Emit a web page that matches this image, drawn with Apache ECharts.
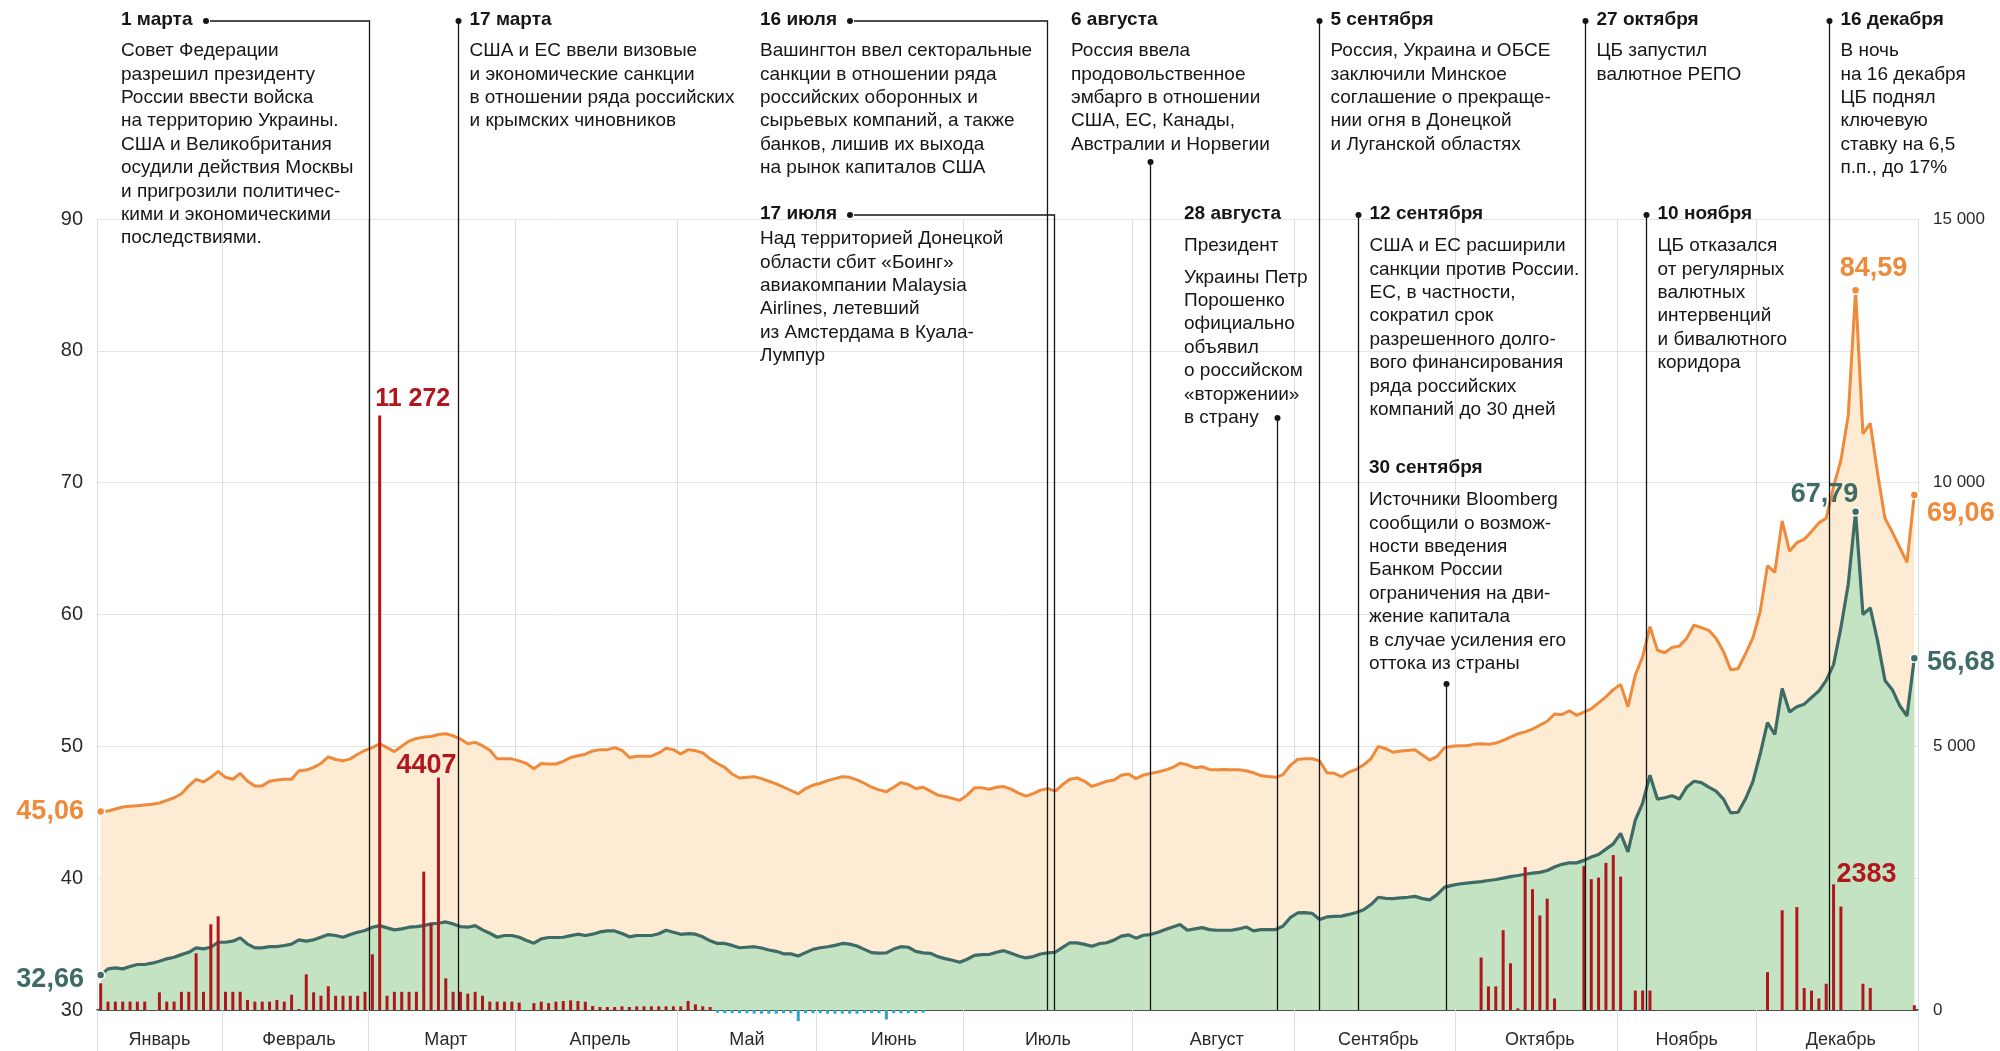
<!DOCTYPE html>
<html>
<head>
<meta charset="utf-8">
<style>
    html, body { margin: 0; padding: 0; background: #fff; }
    #chart { width: 2000px; height: 1051px; }
</style>
<script src="https://cdn.jsdelivr.net/npm/echarts@6.0.0/dist/echarts.min.js"></script>
</head>
<body>
<div id="chart"></div>
<script>
    // торговые дни 2014 года по месяцам
    var months = ['Январь', 'Февраль', 'Март', 'Апрель', 'Май', 'Июнь', 'Июль', 'Август', 'Сентябрь', 'Октябрь', 'Ноябрь', 'Декабрь'];
    var monthDays = [17, 20, 20, 22, 19, 20, 23, 22, 22, 22, 19, 22];

    // курс евро, руб.
    var eurRate = [
        45.06, 45.10, 45.25, 45.40, 45.45, 45.50, 45.55, 45.60, 45.70, 45.90, 46.10, 46.40, 47.00, 47.50, 47.30, 47.65, 48.10,
        47.65, 47.50, 47.95, 47.35, 47.00, 47.00, 47.35, 47.45, 47.50, 47.50, 48.15, 48.20, 48.40, 48.70, 49.20, 49.00, 48.90, 49.05, 49.40, 49.70,
        49.90, 50.20, 49.90, 49.60, 50.00, 50.40, 50.60, 50.70, 50.75, 50.90, 50.95, 50.80, 50.55, 50.20, 50.30, 50.05, 49.70, 49.05, 49.05, 49.05,
        48.90, 48.70, 48.30, 48.70, 48.66, 48.66, 48.86, 49.15, 49.28, 49.40, 49.65, 49.75, 49.75, 49.90, 49.70, 49.15, 49.25, 49.25, 49.25, 49.50, 49.85, 49.75,
        49.42, 49.75, 49.67, 49.50, 49.05, 48.70, 48.40, 47.90, 47.60, 47.65, 47.70, 47.55, 47.35, 47.15, 46.90, 46.65, 46.40, 46.80, 47.05,
        47.20, 47.40, 47.55, 47.70, 47.65, 47.45, 47.20, 46.90, 46.70, 46.55, 46.90, 47.25, 47.10, 46.80, 46.90, 46.60, 46.30, 46.20, 46.05, 45.90,
        46.30, 46.85, 46.85, 46.75, 46.90, 46.95, 46.75, 46.45, 46.22, 46.41, 46.68, 46.79, 46.60, 47.10, 47.50, 47.60, 47.35, 46.96, 47.15, 47.35, 47.45, 47.80, 47.90,
        47.55, 47.82, 47.95, 48.05, 48.20, 48.40, 48.72, 48.60, 48.38, 48.45, 48.25, 48.23, 48.25, 48.23, 48.23, 48.15, 48.00, 47.78, 47.72, 47.65, 47.85, 48.55,
        49.00, 49.06, 49.06, 48.90, 48.00, 47.95, 47.70, 48.05, 48.25, 48.60, 49.06, 50.00, 49.82, 49.55, 49.64, 49.69, 49.74, 49.35, 48.96, 49.24, 49.90, 50.00,
        50.05, 50.05, 50.15, 50.20, 50.15, 50.25, 50.45, 50.70, 50.95, 51.10, 51.30, 51.60, 51.90, 52.45, 52.40, 52.70, 52.35, 52.60, 52.85, 53.30, 53.75, 54.30,
        54.70, 53.00, 55.40, 56.80, 59.08, 57.30, 57.10, 57.50, 57.60, 58.20, 59.20, 59.00, 58.80, 58.20, 57.20, 55.80, 55.90, 57.00, 58.20,
        60.20, 63.70, 63.20, 67.10, 64.80, 65.45, 65.70, 66.30, 66.95, 67.30, 69.70, 71.70, 75.10, 84.59, 73.70, 74.50, 70.70, 67.30, 66.25, 65.10, 63.95, 69.06
    ];

    // курс доллара, руб.
    var usdRate = [
        32.66, 33.12, 33.20, 33.12, 33.30, 33.45, 33.45, 33.55, 33.70, 33.88, 34.00, 34.20, 34.38, 34.71, 34.64, 34.76, 35.14,
        35.14, 35.22, 35.47, 35.00, 34.71, 34.71, 34.81, 34.81, 34.89, 35.00, 35.32, 35.22, 35.32, 35.52, 35.72, 35.65, 35.52, 35.72, 35.90, 36.03,
        36.28, 36.40, 36.23, 36.08, 36.15, 36.28, 36.33, 36.40, 36.53, 36.58, 36.68, 36.53, 36.33, 36.28, 36.40, 36.08, 35.82, 35.52, 35.65, 35.65,
        35.52, 35.27, 35.07, 35.40, 35.50, 35.50, 35.52, 35.64, 35.75, 35.65, 35.75, 35.92, 36.00, 36.00, 35.80, 35.55, 35.65, 35.65, 35.65, 35.78, 36.05, 35.90,
        35.74, 35.80, 35.75, 35.55, 35.25, 35.05, 35.05, 34.90, 34.72, 34.76, 34.80, 34.70, 34.55, 34.45, 34.26, 34.26, 34.10, 34.35, 34.60,
        34.72, 34.80, 34.90, 35.05, 35.00, 34.85, 34.60, 34.35, 34.31, 34.33, 34.62, 34.80, 34.76, 34.45, 34.33, 34.30, 34.05, 33.90, 33.77, 33.62,
        33.85, 34.15, 34.20, 34.21, 34.38, 34.50, 34.30, 34.10, 33.95, 34.05, 34.25, 34.33, 34.38, 34.75, 35.10, 35.09, 34.98, 34.83, 35.03, 35.10, 35.30, 35.60, 35.70,
        35.45, 35.67, 35.72, 35.90, 36.10, 36.30, 36.48, 36.05, 36.15, 36.25, 36.10, 36.05, 36.05, 36.05, 36.15, 36.30, 36.00, 36.10, 36.10, 36.10, 36.35, 37.00,
        37.36, 37.38, 37.33, 36.87, 37.06, 37.10, 37.12, 37.25, 37.40, 37.60, 38.00, 38.55, 38.47, 38.45, 38.50, 38.55, 38.62, 38.45, 38.35, 38.75, 39.30, 39.45,
        39.56, 39.62, 39.68, 39.74, 39.82, 39.90, 40.00, 40.12, 40.20, 40.30, 40.38, 40.44, 40.58, 40.85, 41.05, 41.16, 41.16, 41.35, 41.60, 41.80, 42.20, 42.60,
        43.40, 42.00, 44.40, 45.70, 47.81, 46.00, 46.10, 46.25, 46.00, 46.90, 47.35, 47.25, 46.90, 46.60, 46.00, 44.95, 45.00, 46.00, 47.30,
        49.40, 51.80, 50.90, 54.38, 52.60, 53.00, 53.20, 53.70, 54.20, 55.00, 56.20, 59.00, 62.30, 67.79, 60.00, 60.50, 58.00, 55.00, 54.30, 53.10, 52.30, 56.68
    ];

    // интервенции ЦБ, млн долл. (минус - покупка валюты)
    var interventions = [
        506, 159, 159, 159, 159, 159, 159, 0, 335, 159, 159, 345, 345, 1075, 345, 1625, 1777,
        345, 345, 345, 190, 159, 159, 159, 190, 159, 290, 20, 677, 335, 270, 450, 270, 270, 270, 270, 345,
        1056, 11272, 270, 345, 345, 345, 345, 2624, 1644, 4407, 601, 345, 345, 310, 345, 270, 159, 159, 159, 159,
        140, 0, 130, 159, 130, 159, 171, 183, 171, 158, 76, 57, 57, 57, 70, 57, 70, 70, 70, 70, 70, 70,
        70, 171, 107, 70, 57, -50, -60, -60, -60, -60, -70, -70, -70, -70, -60, -60, -210, -60, -60,
        -60, -70, -70, -70, -70, -70, -60, -60, -60, -180, -60, -60, -60, -60, -50, 0, 0, 0, 0, 0,
        0, 0, 0, 0, 0, 0, 0, 0, 0, 0, 0, 0, 0, 0, 0, 0, 0, 0, 0, 0, 0, 0, 0,
        0, 0, 0, 0, 0, 0, 0, 0, 0, 0, 0, 0, 0, 0, 0, 0, 0, 0, 0, 0, 0, 0,
        0, 0, 0, 0, 0, 0, 0, 0, 0, 0, 0, 0, 0, 0, 0, 0, 0, 0, 0, 0, 0, 0,
        0, 0, 0, 996, 448, 448, 1514, 886, 30, 2709, 2291, 1793, 2112, 219, 0, 0, 0, 2729, 2480, 2510, 2789, 2938,
        2530, 0, 368, 368, 368, 0, 0, 0, 0, 0, 0, 0, 0, 0, 0, 0, 0, 0, 0,
        0, 717, 0, 1892, 0, 1952, 418, 368, 219, 498, 2383, 1962, 0, 0, 498, 418, 0, 0, 0, 0, 0, 90
    ];

    var rateTicks = [30, 40, 50, 60, 70, 80, 90];
    var volumeTicks = [0, 5000, 10000, 15000];

    // события (day - номер торгового дня)
    var events = [
        { day: 36.6, title: '1 марта', text: ['Совет Федерации', 'разрешил президенту', 'России ввести войска', 'на территорию Украины.', 'США и Великобритания', 'осудили действия Москвы', 'и пригрозили политичес-', 'кими и экономическими', 'последствиями.'] },
        { day: 48.7, title: '17 марта', text: ['США и ЕС ввели визовые', 'и экономические санкции', 'в отношении ряда российских', 'и крымских чиновников'] },
        { day: 128.9, title: '16 июля', text: ['Вашингтон ввел секторальные', 'санкции в отношении ряда', 'российских оборонных и', 'сырьевых компаний, а также', 'банков, лишив их выхода', 'на рынок капиталов США'] },
        { day: 129.9, title: '17 июля', text: ['Над территорией Донецкой', 'области сбит «Боинг»', 'авиакомпании Malaysia', 'Airlines, летевший', 'из Амстердама в Куала-', 'Лумпур'] },
        { day: 142.9, title: '6 августа', text: ['Россия ввела', 'продовольственное', 'эмбарго в отношении', 'США, ЕС, Канады,', 'Австралии и Норвегии'] },
        { day: 160.2, title: '28 августа', text: ['Президент', 'Украины Петр', 'Порошенко', 'официально', 'объявил', 'о российском', '«вторжении»', 'в страну'] },
        { day: 165.9, title: '5 сентября', text: ['Россия, Украина и ОБСЕ', 'заключили Минское', 'соглашение о прекраще-', 'нии огня в Донецкой', 'и Луганской областях'] },
        { day: 171.2, title: '12 сентября', text: ['США и ЕС расширили', 'санкции против России.', 'ЕС, в частности,', 'сократил срок', 'разрешенного долго-', 'вого финансирования', 'ряда российских', 'компаний до 30 дней'] },
        { day: 183.2, title: '30 сентября', text: ['Источники Bloomberg', 'сообщили о возмож-', 'ности введения', 'Банком России', 'ограничения на дви-', 'жение капитала', 'в случае усиления его', 'оттока из страны'] },
        { day: 202.2, title: '27 октября', text: ['ЦБ запустил', 'валютное РЕПО'] },
        { day: 210.4, title: '10 ноября', text: ['ЦБ отказался', 'от регулярных', 'валютных', 'интервенций', 'и бивалютного', 'коридора'] },
        { day: 235.4, title: '16 декабря', text: ['В ночь', 'на 16 декабря', 'ЦБ поднял', 'ключевую', 'ставку на 6,5', 'п.п., до 17%'] }
    ];

    // размещение подписей событий, px
    var eventLayout = [
        { x: 121, y: 20, body: 51, link: 'hook', dotX: 206 },
        { y: 20, body: 51, link: 'top' },
        { x: 760, y: 20, body: 51, link: 'hook', dotX: 850 },
        { x: 760, y: 214, body: 239, link: 'hook', dotX: 850 },
        { x: 1071, y: 20, body: 51, link: 'tail', dotY: 162 },
        { x: 1184, y: 214, body: 246, link: 'tail', dotY: 418, breakAfter: 1, breakGap: 8 },
        { y: 20, body: 51, link: 'top' },
        { y: 214, body: 246, link: 'top' },
        { x: 1369, y: 468, body: 500, link: 'tail', dotY: 684 },
        { y: 20, body: 51, link: 'top' },
        { y: 214, body: 246, link: 'top' },
        { y: 20, body: 51, link: 'top' }
    ];

    var FONT = '"Liberation Sans", Arial, sans-serif';
    var EUR_COLOR = '#ef8a3b';
    var USD_COLOR = '#3e6b66';
    var SALE_COLOR = '#b1161d';
    var BUY_COLOR = '#2aa5c4';
    var LINE_H = 23.4;

    var days = [];
    var monthStart = {};
    var monthMid = {};
    months.forEach(function (name, m) {
        monthStart[days.length] = true;
        monthMid[days.length + Math.floor(monthDays[m] / 2)] = name;
        for (var d = 0; d < monthDays[m]; d++) {
            days.push(m + '-' + d);
        }
    });

    function fmtRate(v) {
        return v.toFixed(2).replace('.', ',');
    }

    function fmtVolume(v) {
        return v >= 10000 ? Math.floor(v / 1000) + ' ' + String(v % 1000).padStart(3, '0') : String(v);
    }

    function argMax(arr) {
        var best = 0;
        arr.forEach(function (v, i) { if (v > arr[best]) best = i; });
        return best;
    }

    var last = days.length - 1;
    var eurLabels = {};
    eurLabels[0] = { position: 'left', distance: 12 };
    eurLabels[argMax(eurRate)] = { position: 'top', distance: 10, offset: [18, 6] };
    eurLabels[last] = { position: 'right', distance: 8, offset: [0, 18] };
    var usdLabels = {};
    usdLabels[0] = { position: 'left', distance: 12, offset: [0, 5] };
    usdLabels[argMax(usdRate)] = { position: 'top', distance: 8, offset: [-31, 9] };
    usdLabels[last] = { position: 'right', distance: 8, offset: [0, 4] };

    var barLabels = {};
    barLabels[38] = { offset: [33, 0], fontSize: 25 };
    barLabels[46] = { offset: [-12, 5] };
    barLabels[236] = { offset: [33, 8] };

    function rateData(values, color, labels) {
        return values.map(function (v, i) {
            var lab = labels[i];
            if (!lab) return v;
            return {
                value: v,
                symbolSize: 8,
                itemStyle: { color: color, borderColor: '#fff', borderWidth: 1.5 },
                label: Object.assign({
                    show: true,
                    color: color,
                    fontFamily: FONT,
                    fontWeight: 'bold',
                    fontSize: 27,
                    formatter: function (p) { return fmtRate(p.value); }
                }, lab)
            };
        });
    }

    var sales = interventions.map(function (v, i) {
        if (v <= 0) return '-';
        var lab = barLabels[i];
        if (!lab) return v;
        return {
            value: v,
            label: Object.assign({
                show: true,
                position: 'top',
                distance: 4,
                color: SALE_COLOR,
                fontFamily: FONT,
                fontWeight: 'bold',
                fontSize: 27,
                formatter: function (p) { return fmtVolume(p.value); }
            }, lab)
        };
    });
    var purchases = interventions.map(function (v) { return v < 0 ? v : '-'; });

    var chart = echarts.init(document.getElementById('chart'));

    var option = {
        animation: false,
        backgroundColor: '#fff',
        grid: { left: 97, right: 82, top: 219, bottom: 41, outerBoundsMode: 'none' },
        xAxis: {
            type: 'category',
            data: days,
            boundaryGap: true,
            axisLine: { show: true, lineStyle: { color: '#1e1e1e', width: 1.5 } },
            axisTick: {
                show: true,
                length: 41,
                interval: function (i) { return !!monthStart[i]; },
                lineStyle: { color: '#cfe5e2', width: 1 }
            },
            splitLine: {
                show: true,
                interval: function (i) { return !!monthStart[i]; },
                lineStyle: { color: '#cfe5e2', width: 1 }
            },
            axisLabel: {
                interval: function (i) { return monthMid[i] !== undefined; },
                formatter: function (v) { return months[+v.split('-')[0]]; },
                color: '#2a2a2a',
                fontFamily: FONT,
                fontSize: 18,
                margin: 21
            }
        },
        yAxis: [{
            type: 'value',
            min: rateTicks[0],
            max: rateTicks[rateTicks.length - 1],
            interval: rateTicks[1] - rateTicks[0],
            axisLine: { show: false },
            axisTick: { show: false },
            splitLine: { lineStyle: { color: '#e4e4e4', width: 1 } },
            axisLabel: { color: '#2a2a2a', fontFamily: FONT, fontSize: 20, margin: 14 }
        }, {
            type: 'value',
            position: 'right',
            min: volumeTicks[0],
            max: volumeTicks[volumeTicks.length - 1],
            interval: volumeTicks[1] - volumeTicks[0],
            axisLine: { show: false },
            axisTick: { show: false },
            splitLine: { show: false },
            axisLabel: {
                color: '#2a2a2a', fontFamily: FONT, fontSize: 17, margin: 15,
                formatter: function (v) { return v >= 1000 ? (v / 1000) + ' 000' : String(v); }
            }
        }],
        series: [{
            name: 'EUR',
            type: 'line',
            data: rateData(eurRate, EUR_COLOR, eurLabels),
            symbol: 'circle',
            symbolSize: 0,
            showAllSymbol: true,
            itemStyle: { color: EUR_COLOR, borderWidth: 0 },
            lineStyle: { color: EUR_COLOR, width: 3 },
            areaStyle: { color: '#fdebd3', opacity: 1, origin: 'start' },
            z: 2
        }, {
            name: 'USD',
            type: 'line',
            data: rateData(usdRate, USD_COLOR, usdLabels),
            symbol: 'circle',
            symbolSize: 0,
            showAllSymbol: true,
            itemStyle: { color: USD_COLOR, borderWidth: 0 },
            lineStyle: { color: USD_COLOR, width: 3.2 },
            areaStyle: { color: '#c4e3c2', opacity: 1, origin: 'start' },
            z: 3
        }, {
            name: 'Продажа',
            type: 'bar',
            yAxisIndex: 1,
            data: sales,
            barWidth: 3,
            barGap: '-100%',
            itemStyle: { color: SALE_COLOR },
            z: 4
        }, {
            name: 'Покупка',
            type: 'bar',
            yAxisIndex: 1,
            data: purchases,
            barWidth: 3,
            barGap: '-100%',
            clip: false,
            itemStyle: { color: BUY_COLOR },
            z: 4
        }]
    };

    chart.setOption(option);

    // линии и подписи событий
    var axisY = chart.convertToPixel({ yAxisIndex: 0 }, rateTicks[0]);
    var x0 = chart.convertToPixel({ xAxisIndex: 0 }, days[0]);
    var xN = chart.convertToPixel({ xAxisIndex: 0 }, days[last]);
    function dayToX(p) {
        return x0 + (xN - x0) * p / last;
    }

    var LINK = '#151515';
    var elements = [];
    function addText(x, y, str, bold) {
        elements.push({
            type: 'text', silent: true, z: 20,
            style: {
                x: x, y: y, text: str, fill: '#161616',
                font: (bold ? 'bold ' : '') + '19px ' + FONT,
                lineHeight: LINE_H,
                align: 'left', textAlign: 'left',
                verticalAlign: 'top', textVerticalAlign: 'top'
            }
        });
    }
    function addDot(x, y) {
        elements.push({ type: 'circle', silent: true, z: 21, shape: { cx: x, cy: y, r: 3 }, style: { fill: LINK } });
    }
    function addPath(points) {
        elements.push({ type: 'polyline', silent: true, z: 19, shape: { points: points }, style: { stroke: LINK, lineWidth: 1.3, fill: null } });
    }

    events.forEach(function (ev, k) {
        var lay = eventLayout[k];
        var X = Math.round(dayToX(ev.day)) + 0.5;
        var tx = lay.link === 'top' ? X + 11 : lay.x;
        addText(tx, lay.y - LINE_H / 2, ev.title, true);
        var lines = ev.text;
        if (lay.breakAfter) {
            addText(tx, lay.body - LINE_H / 2, lines.slice(0, lay.breakAfter).join('\n'), false);
            addText(tx, lay.body + LINE_H * lay.breakAfter + lay.breakGap - LINE_H / 2, lines.slice(lay.breakAfter).join('\n'), false);
        } else {
            addText(tx, lay.body - LINE_H / 2, lines.join('\n'), false);
        }
        if (lay.link === 'hook') {
            addDot(lay.dotX, lay.y + 1);
            addPath([[lay.dotX + 4, lay.y + 1], [X, lay.y + 1], [X, axisY]]);
        } else if (lay.link === 'top') {
            addDot(X, lay.y + 1);
            addPath([[X, lay.y + 1], [X, axisY]]);
        } else {
            addDot(X, lay.dotY);
            addPath([[X, lay.dotY], [X, axisY]]);
        }
    });

    chart.setOption({ graphic: { elements: elements } });
</script>
</body>
</html>
